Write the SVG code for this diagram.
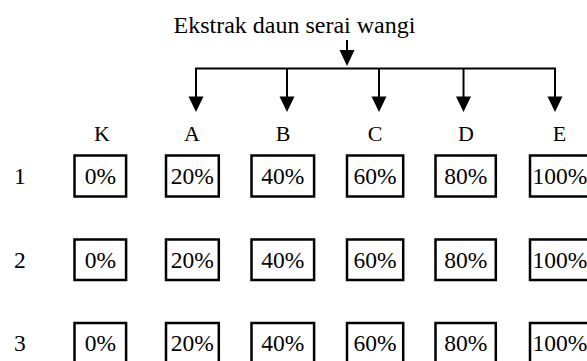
<svg xmlns="http://www.w3.org/2000/svg" width="587" height="361" viewBox="0 0 587 361">
<style>
text{font-family:"Liberation Serif","Times New Roman",serif;fill:#000}
.t{font-size:24px}
.l{font-size:22px;text-anchor:middle}
.v{font-size:23.5px;text-anchor:middle}
.r{font-size:23.5px}
.box{fill:#fff;stroke:#000;stroke-width:2.5}
.ln{stroke:#000;stroke-width:2;fill:none}
.ah{fill:#000}
</style>
<rect width="587" height="361" fill="#fff"/>
<g id="title"><text class="t" x="173.5" y="32.7">Ekstrak daun serai wangi</text></g>
<g id="connectors">
<line class="ln" x1="347" y1="40" x2="347" y2="52"/>
<polygon class="ah" points="339.5,50 354.5,50 347,66"/>
<polyline class="ln" points="196,97 196,68.5 555,68.5 555,97"/>
<line class="ln" x1="287" y1="68.5" x2="287" y2="97"/>
<line class="ln" x1="379" y1="68.5" x2="379" y2="97"/>
<line class="ln" x1="463.5" y1="68.5" x2="463.5" y2="97"/>
<polygon class="ah" points="188.5,96.5 203.5,96.5 196,112"/>
<polygon class="ah" points="279.5,96.5 294.5,96.5 287,112"/>
<polygon class="ah" points="371.5,96.5 386.5,96.5 379,112"/>
<polygon class="ah" points="456,96.5 471,96.5 463.5,112"/>
<polygon class="ah" points="547.5,96.5 562.5,96.5 555,112"/>
</g>
<g id="col-labels">
<text class="l" x="102" y="140.5">K</text>
<text class="l" x="192" y="140.5">A</text>
<text class="l" x="283" y="140.5">B</text>
<text class="l" x="375" y="140.5">C</text>
<text class="l" x="466" y="140.5">D</text>
<text class="l" x="559.5" y="140.5">E</text>
</g>
<g id="row-labels">
<text class="r" x="14" y="184">1</text>
<text class="r" x="14" y="267.5">2</text>
<text class="r" x="14" y="351">3</text>
</g>
<g id="row1">
<g id="K1"><rect class="box" x="74.5" y="155.5" width="51.6" height="41"/><text class="v" x="100.3" y="184">0%</text></g>
<g id="A1"><rect class="box" x="166" y="155.5" width="52.8" height="41"/><text class="v" x="192.3" y="184">20%</text></g>
<g id="B1"><rect class="box" x="251.5" y="155.5" width="62.6" height="41"/><text class="v" x="282.8" y="184">40%</text></g>
<g id="C1"><rect class="box" x="347" y="155.5" width="56.2" height="41"/><text class="v" x="375" y="184">60%</text></g>
<g id="D1"><rect class="box" x="435.5" y="155.5" width="60.3" height="41"/><text class="v" x="465.7" y="184">80%</text></g>
<g id="E1"><rect class="box" x="530" y="155.5" width="60" height="41"/><text class="v" x="560" y="184">100%</text></g>
</g>
<g id="row2">
<g id="K2"><rect class="box" x="74.5" y="239.5" width="51.6" height="40.5"/><text class="v" x="100.3" y="267.5">0%</text></g>
<g id="A2"><rect class="box" x="166" y="239.5" width="52.8" height="40.5"/><text class="v" x="192.3" y="267.5">20%</text></g>
<g id="B2"><rect class="box" x="251.5" y="239.5" width="62.6" height="40.5"/><text class="v" x="282.8" y="267.5">40%</text></g>
<g id="C2"><rect class="box" x="347" y="239.5" width="56.2" height="40.5"/><text class="v" x="375" y="267.5">60%</text></g>
<g id="D2"><rect class="box" x="435.5" y="239.5" width="60.3" height="40.5"/><text class="v" x="465.7" y="267.5">80%</text></g>
<g id="E2"><rect class="box" x="530" y="239.5" width="60" height="40.5"/><text class="v" x="560" y="267.5">100%</text></g>
</g>
<g id="row3">
<g id="K3"><rect class="box" x="74.5" y="323" width="51.6" height="41"/><text class="v" x="100.3" y="351">0%</text></g>
<g id="A3"><rect class="box" x="166" y="323" width="52.8" height="41"/><text class="v" x="192.3" y="351">20%</text></g>
<g id="B3"><rect class="box" x="251.5" y="323" width="62.6" height="41"/><text class="v" x="282.8" y="351">40%</text></g>
<g id="C3"><rect class="box" x="347" y="323" width="56.2" height="41"/><text class="v" x="375" y="351">60%</text></g>
<g id="D3"><rect class="box" x="435.5" y="323" width="60.3" height="41"/><text class="v" x="465.7" y="351">80%</text></g>
<g id="E3"><rect class="box" x="530" y="323" width="60" height="41"/><text class="v" x="560" y="351">100%</text></g>
</g>
</svg>
